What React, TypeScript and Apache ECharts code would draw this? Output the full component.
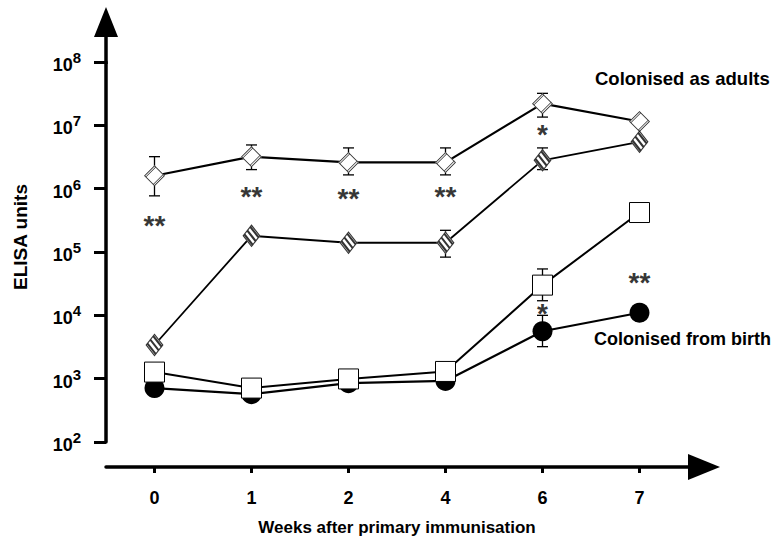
import React, { useEffect, useRef } from 'react';
import * as echarts from 'echarts';

// ---- data ----
const weeks = ['0', '1', '2', '4', '6', '7'];
const adultsOpen = [1.6e6, 3.2e6, 2.6e6, 2.6e6, 2.2e7, 1.15e7];
const adultsHatched = [3.4e3, 1.8e5, 1.4e5, 1.4e5, 2.8e6, 5.5e6];
const birthSquare = [1.27e3, 7.1e2, 9.9e2, 1.3e3, 3.0e4, 4.2e5];
const birthCircle = [7.1e2, 5.7e2, 8.5e2, 9.2e2, 5.6e3, 1.1e4];

// error bars: [week index, low, high]
const errAdultsOpen = [
  [0, 7.7e5, 3.2e6],
  [1, 2.0e6, 4.9e6],
  [2, 1.65e6, 4.4e6],
  [3, 1.65e6, 4.4e6],
  [4, 1.35e7, 3.2e7],
];
const errAdultsHatched = [
  [3, 8.3e4, 2.2e5],
  [4, 2.0e6, 4.4e6],
];
const errBirthSquare = [[4, 1.7e4, 5.4e4]];
const errBirthCircle = [[4, 3.2e3, 1.0e4]];

// significance marks: [week, value, text]
const stars: [string, number, string][] = [
  ['0', 3.2e5, '**'],
  ['1', 9.1e5, '**'],
  ['2', 8.3e5, '**'],
  ['4', 9.1e5, '**'],
  ['6', 8.5e6, '*'],
  ['6', 1.26e4, '*'],
  ['7', 3.9e4, '**'],
];

const groupLabels = ['Colonised as adults', 'Colonised from birth'];
const xTitle = 'Weeks after primary immunisation';
const yTitle = 'ELISA units';

const FONT = '"Liberation Sans", Arial, Helvetica, sans-serif';

// marker overlay paths (20x20 box)
const HATCH_PATH =
  'path://M10 0L20 10L10 20L0 10Z M10 1.6L1.6 10L10 18.4L18.4 10Z ' +
  'M1 9L2.5 7.5L12.5 17.5L11 19Z ' +
  'M4.25 5.75L5.75 4.25L15.75 14.25L14.25 15.75Z ' +
  'M7.5 2.5L9 1L19 11L17.5 12.5Z';
const OPEN_PATH =
  'path://M10 0L20 10L10 20L0 10Z M10 1.2L1.2 10L10 18.8L18.8 10Z ' +
  'M1.25 11.25L11.25 1.25L11.75 1.75L1.75 11.75Z ' +
  'M8.25 18.25L18.25 8.25L18.75 8.75L8.75 18.75Z';

function errorSeries(data: number[][], z: number) {
  return {
    type: 'custom',
    data,
    encode: { x: 0, y: [1, 2] },
    z,
    silent: true,
    renderItem: (_params: any, api: any) => {
      const xi = api.value(0);
      const lo = api.coord([xi, api.value(1)]);
      const hi = api.coord([xi, api.value(2)]);
      const hw = 5.5;
      const style = { stroke: '#000', lineWidth: 1.3 };
      return {
        type: 'group',
        children: [
          { type: 'line', shape: { x1: lo[0], y1: lo[1], x2: hi[0], y2: hi[1] }, style },
          { type: 'line', shape: { x1: lo[0] - hw, y1: lo[1], x2: lo[0] + hw, y2: lo[1] }, style },
          { type: 'line', shape: { x1: hi[0] - hw, y1: hi[1], x2: hi[0] + hw, y2: hi[1] }, style },
        ],
      };
    },
  };
}

export default function App() {
  const ref = useRef<HTMLDivElement>(null);
  useEffect(() => {
    if (!ref.current) return;
    const chart = echarts.init(ref.current, undefined, { renderer: 'svg' });
    const option: any = {
      animation: false,
      backgroundColor: '#ffffff',
      textStyle: { fontFamily: FONT },
      grid: { left: 106, top: 62, width: 582, height: 380 },
      xAxis: {
        type: 'category',
        data: weeks,
        boundaryGap: true,
        offset: 25,
        axisLine: {
          show: true,
          lineStyle: { color: '#000', width: 3.5 },
          symbol: ['none', 'triangle'],
          symbolSize: [26, 32],
          symbolOffset: [0, 16],
        },
        axisTick: { show: true, alignWithLabel: true, length: 6, lineStyle: { color: '#000', width: 3 } },
        axisLabel: { color: '#000', fontSize: 18, fontWeight: 'bold', margin: 22, fontFamily: FONT },
        splitLine: { show: false },
        name: xTitle,
        nameLocation: 'middle',
        nameGap: 52,
        nameTextStyle: { color: '#000', fontSize: 17, fontWeight: 'bold', fontFamily: FONT },
      },
      yAxis: {
        type: 'log',
        logBase: 10,
        min: 100,
        max: 1e8,
        axisLine: { show: true, lineStyle: { color: '#000', width: 3.5 } },
        axisTick: { show: true, length: 12, lineStyle: { color: '#000', width: 3 } },
        splitLine: { show: false },
        axisLabel: {
          margin: 25,
          formatter: (v: number) => `{b|10}{s|${Math.round(Math.log10(v))}}`,
          rich: {
            b: { fontSize: 18, fontWeight: 'bold', color: '#000', fontFamily: FONT, verticalAlign: 'bottom', lineHeight: 24 },
            s: { fontSize: 15, fontWeight: 'bold', color: '#000', fontFamily: FONT, verticalAlign: 'top', lineHeight: 15 },
          },
        },
        name: yTitle,
        nameLocation: 'middle',
        nameRotate: 90,
        nameGap: 76,
        nameTextStyle: { color: '#000', fontSize: 19, fontWeight: 'bold', fontFamily: FONT, padding: [0, 0, 0, 30] },
      },
      graphic: [
        { type: 'line', shape: { x1: 106, y1: 64, x2: 106, y2: 34 }, style: { stroke: '#000', lineWidth: 3.5 } },
        { type: 'polygon', shape: { points: [[94, 37], [118, 37], [106, 7]] }, style: { fill: '#000' } },
        {
          type: 'text',
          left: 595,
          top: 69,
          style: { text: groupLabels[0], font: `bold 18.5px ${FONT}`, fill: '#000' },
        },
        {
          type: 'text',
          left: 594,
          top: 330,
          style: { text: groupLabels[1], font: `bold 18px ${FONT}`, fill: '#000' },
        },
      ],
      series: [
        errorSeries(errAdultsOpen, 1),
        errorSeries(errAdultsHatched, 1),
        errorSeries(errBirthSquare, 1),
        errorSeries(errBirthCircle, 1),
        {
          type: 'line',
          data: birthCircle,
          z: 2,
          symbol: 'circle',
          symbolSize: 20,
          showAllSymbol: true,
          lineStyle: { color: '#000', width: 2.2 },
          itemStyle: { color: '#000', borderWidth: 0 },
        },
        {
          type: 'line',
          data: birthSquare,
          z: 3,
          symbol: 'rect',
          symbolSize: 20,
          showAllSymbol: true,
          lineStyle: { color: '#000', width: 2 },
          itemStyle: { color: '#fff', borderColor: '#000', borderWidth: 1 },
        },
        {
          type: 'line',
          data: adultsHatched,
          z: 3,
          symbol: 'diamond',
          symbolSize: [18, 23],
          showAllSymbol: true,
          lineStyle: { color: '#000', width: 1.8 },
          itemStyle: { color: '#fff', borderWidth: 0 },
        },
        {
          type: 'scatter',
          data: adultsHatched,
          z: 4,
          silent: true,
          symbol: HATCH_PATH,
          symbolSize: [18, 23],
          itemStyle: { color: '#000' },
        },
        {
          type: 'line',
          data: adultsOpen,
          z: 3,
          symbol: 'diamond',
          symbolSize: [21, 21],
          showAllSymbol: true,
          lineStyle: { color: '#000', width: 2.2 },
          itemStyle: { color: '#fff', borderWidth: 0 },
        },
        {
          type: 'scatter',
          data: adultsOpen,
          z: 4,
          silent: true,
          symbol: OPEN_PATH,
          symbolSize: [21, 21],
          itemStyle: { color: '#000' },
        },
        {
          type: 'scatter',
          z: 5,
          silent: true,
          symbolSize: 2,
          itemStyle: { color: 'rgba(0,0,0,0)' },
          data: stars.map((s) => ({ name: s[2], value: [s[0], s[1]] })),
          label: {
            show: true,
            position: 'inside',
            formatter: '{b}',
            color: '#000',
            textBorderWidth: 0,
            fontSize: 28,
            fontWeight: 'bold',
            fontFamily: FONT,
            offset: [0, 5],
          },
        },
      ],
    };
    chart.setOption(option);
    return () => chart.dispose();
  }, []);
  return (
    <div
      ref={ref}
      style={{ position: 'fixed', left: 0, top: 0, width: 780, height: 545, background: '#fff' }}
    />
  );
}
